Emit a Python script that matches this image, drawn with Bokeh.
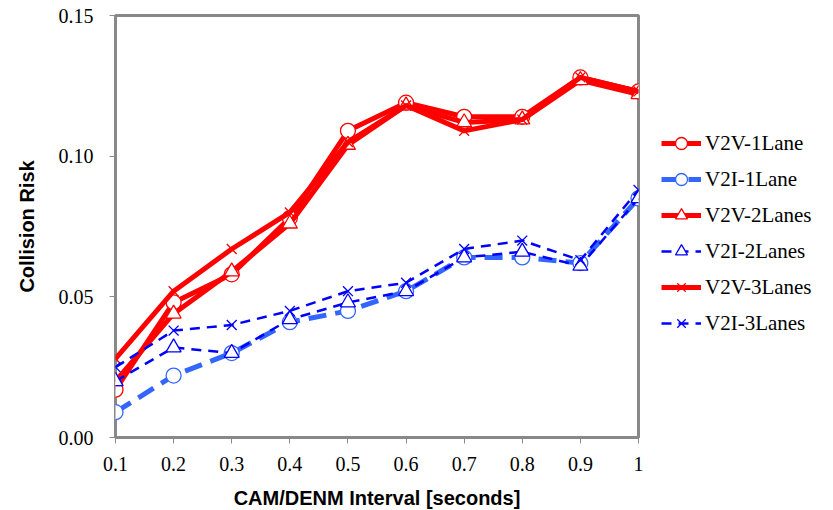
from bokeh.plotting import figure
from bokeh.models import Legend, LegendItem, FixedTicker, Range1d
from bokeh.embed import file_html
from bokeh.resources import INLINE

x = [0.1, 0.2, 0.3, 0.4, 0.5, 0.6, 0.7, 0.8, 0.9, 1.0]
v2v_1 = [0.017, 0.048, 0.058, 0.078, 0.109, 0.119, 0.114, 0.114, 0.128, 0.123]
v2i_1 = [0.009, 0.022, 0.030, 0.041, 0.045, 0.052, 0.064, 0.064, 0.062, 0.085]
v2v_2 = [0.020, 0.044, 0.059, 0.076, 0.104, 0.118, 0.112, 0.113, 0.127, 0.122]
v2i_2 = [0.020, 0.032, 0.030, 0.042, 0.048, 0.052, 0.064, 0.066, 0.061, 0.085]
v2v_3 = [0.028, 0.052, 0.067, 0.080, 0.105, 0.118, 0.109, 0.113, 0.128, 0.123]
v2i_3 = [0.025, 0.038, 0.040, 0.045, 0.052, 0.055, 0.067, 0.070, 0.063, 0.088]

x_ticks = [0.1, 0.2, 0.3, 0.4, 0.5, 0.6, 0.7, 0.8, 0.9, 1.0]
x_tick_labels = ["0.1", "0.2", "0.3", "0.4", "0.5", "0.6", "0.7", "0.8", "0.9", "1"]
y_ticks = [0.0, 0.05, 0.10, 0.15]
y_tick_labels = ["0.00", "0.05", "0.10", "0.15"]

RED = "#FF0000"
BLUE = "#0000FF"
LBLUE = "#3366FF"

p = figure(frame_width=523, frame_height=422, output_backend="svg", toolbar_location=None,
           x_range=Range1d(0.1, 1.0), y_range=Range1d(0.0, 0.15),
           min_border_left=115, min_border_top=15, min_border_right=187, min_border_bottom=65)
p.background_fill_color = "white"
p.border_fill_color = "white"
p.outline_line_color = "#898989"
p.outline_line_width = 3
p.xgrid.visible = False
p.ygrid.visible = False

series = [
    ("V2V-1Lane", v2v_1, RED, 5, "solid", "circle", 15),
    ("V2I-1Lane", v2i_1, LBLUE, 5, "18 9", "circle", 15),
    ("V2V-2Lanes", v2v_2, RED, 5, "solid", "triangle", 15),
    ("V2I-2Lanes", v2i_2, BLUE, 2.5, "10 7", "triangle", 15),
    ("V2V-3Lanes", v2v_3, RED, 5, "solid", "x", 14),
    ("V2I-3Lanes", v2i_3, BLUE, 2.5, "10 7", "x", 14),
]

items = []
for name, ys, col, lw, dash, marker, size in series:
    lr = p.line(x, ys, line_color=col, line_width=lw, line_dash=dash, line_join="round")
    sr = p.scatter(x, ys, marker=marker, size=size, line_color=col, line_width=1.3,
                   fill_color="white")
    items.append(LegendItem(label=name, renderers=[lr, sr]))

legend = Legend(items=items, location=(23, 99), orientation="vertical",
                glyph_width=40, glyph_height=30, label_height=20, spacing=6,
                padding=0, margin=0, label_standoff=4,
                label_text_font="Liberation Serif", label_text_font_size="21px",
                label_text_color="black",
                border_line_color=None, background_fill_alpha=0)
p.add_layout(legend, "right")

for ax in (p.xaxis[0], p.yaxis[0]):
    ax.axis_line_color = None
    ax.major_tick_line_color = "#898989"
    ax.major_tick_line_width = 1
    ax.major_tick_out = 6
    ax.major_tick_in = 0
    ax.minor_tick_line_color = None
    ax.major_label_text_font = "Liberation Serif"
    ax.major_label_text_font_size = "20px"
    ax.major_label_text_color = "black"
    ax.axis_label_text_font = "Liberation Sans"
    ax.axis_label_text_font_style = "bold"
    ax.axis_label_text_font_size = "20px"
    ax.axis_label_text_color = "black"

p.xaxis.ticker = FixedTicker(ticks=x_ticks)
p.xaxis.major_label_overrides = {t: l for t, l in zip(x_ticks, x_tick_labels)}
p.yaxis.ticker = FixedTicker(ticks=y_ticks)
p.yaxis.major_label_overrides = {t: l for t, l in zip(y_ticks, y_tick_labels)}
p.xaxis.axis_label = "CAM/DENM Interval [seconds]"
p.yaxis.axis_label = "Collision Risk"
p.xaxis.major_label_standoff = 13
p.yaxis.major_label_standoff = 16
p.xaxis.axis_label_standoff = 13
p.yaxis.axis_label_standoff = 18

open("out.html", "w").write(file_html(p, INLINE))
